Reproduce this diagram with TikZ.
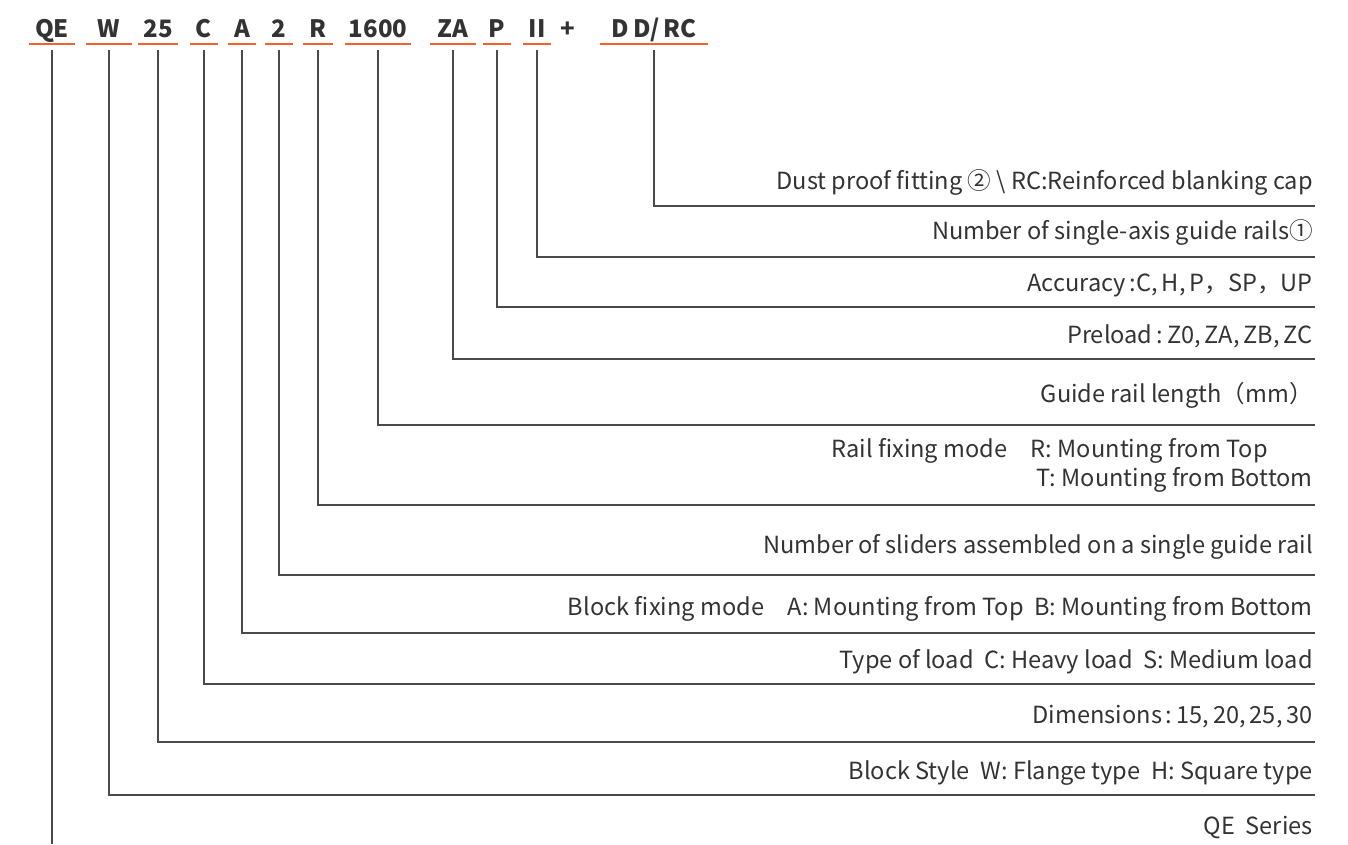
\documentclass[tikz,border=0pt]{standalone}
\usepackage{fontspec}
\setmainfont{Noto Sans CJK SC}
\usetikzlibrary{positioning}

\definecolor{codeorange}{HTML}{F4612B}
\definecolor{leadgray}{HTML}{4A4A4A}
\definecolor{textgray}{HTML}{333333}

\begin{document}
\begin{tikzpicture}[x=0.75pt, y=-0.75pt,
    code/.style={font=\fontsize{18}{20}\selectfont\bfseries, text=textgray,
        inner xsep=0pt, inner ysep=2pt, anchor=base},
    uline/.style={codeorange, line width=2.2pt},
    lead/.style={leadgray, line width=1pt},
    lbl/.style={font=\fontsize{17.7}{21.75}\selectfont, text=textgray,
        inner sep=0pt, anchor=base east}]
    \useasboundingbox (0,0) rectangle (1348,844);

    % model code
    \foreach \n/\x/\w/\t in {qe/52/46/QE, w/109/45/W, d/158/39/25, c/204/28/C,
            a/242/27/A, n/279/28/2, r/318/29/R, len/378/65/1600, za/453/46/ZA,
            p/497/27/P, ii/537/28/II} {
        \node[code, minimum width=\w*0.75pt] (\n) at (\x,37) {\t};
        \draw[uline] ([yshift=-5.25pt]\n.base west) -- ([yshift=-5.25pt]\n.base east);
    }
    \node[code] (plus) at (568,37) {+};
    \node[code, minimum width=81pt] (dd) at (654,37) {D\,D/\,RC};
    \draw[uline] ([yshift=-5.25pt]dd.base west) -- ([yshift=-5.25pt]dd.base east);

    % line ends
    \foreach \n/\y in {dd/206, ii/257, p/307, za/359, len/425, r/505, n/575,
            a/633, c/684, d/742, w/795}
        \coordinate (e\n) at (1315,\y);
    \coordinate (eqe) at (52,844);

    % descriptions
    \node[lbl] (ldd) at (1313,189) {Dust proof fitting ② \textbackslash\ RC:Reinforced blanking cap};
    \node[lbl] (lii) at (1313,239) {Number of single-axis guide rails①};
    \node[lbl] (lp) at (1313,291) {Accuracy\,:C,\,H,\,P，SP，UP};
    \node[lbl] (lza) at (1313,343) {Preload\,:\,Z0,\,ZA,\,ZB,\,ZC};
    \node[lbl] (llen) at (1313,402) {Guide rail length（mm）};
    \node[lbl] (lr) at (1313,457) {\begin{tabular}[t]{@{}l@{}l@{}}
        Rail fixing mode\quad\ & R: Mounting from Top\\
        & \ T: Mounting from Bottom
    \end{tabular}};
    \node[lbl] (ln) at (1313,553) {Number of sliders assembled on a single guide rail};
    \node[lbl] (la) at (1313,615) {Block fixing mode\quad A: Mounting from Top\ \ B: Mounting from Bottom};
    \node[lbl] (lc) at (1313,668) {Type of load\ \ C: Heavy load\ \ S: Medium load};
    \node[lbl] (ld) at (1313,723) {Dimensions\,:\,15,\,20,\,25,\,30};
    \node[lbl] (lw) at (1313,779) {Block Style\ \ W: Flange type\ \ H: Square type};
    \node[lbl] (lqe) at (1313,834) {QE\ \ Series};

    % leaders
    \foreach \n in {dd, ii, p, za, len, r, n, a, c, d, w}
        \draw[lead] ([yshift=-9.75pt]\n.base) |- (e\n);
    \draw[lead] ([yshift=-9.75pt]qe.base) -- (eqe);
\end{tikzpicture}
\end{document}
